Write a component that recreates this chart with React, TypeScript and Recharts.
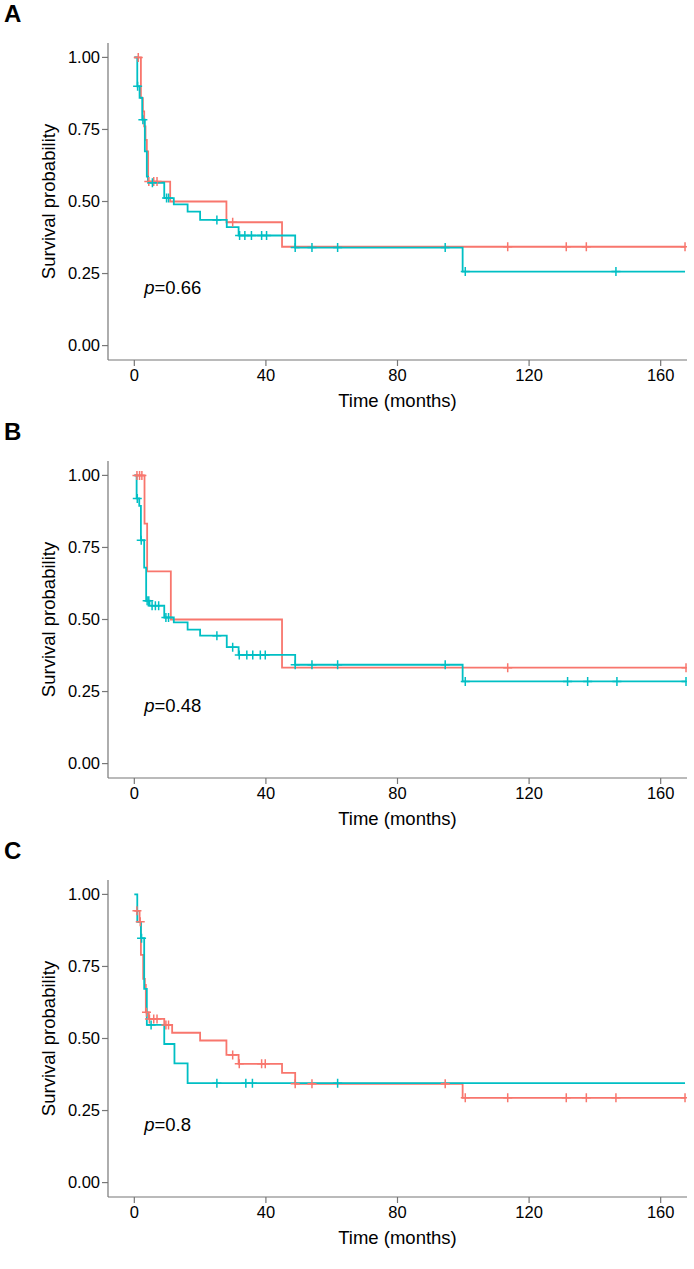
import React from "react";
import {
  ComposedChart,
  Line,
  Scatter,
  XAxis,
  YAxis,
  ReferenceDot,
} from "recharts";

const RED = "#F8766D";
const CYAN = "#00BFC4";
const FONT = "'Liberation Sans', Arial, sans-serif";

const xTicks = [0, 40, 80, 120, 160];
const yTicks = [0, 0.25, 0.5, 0.75, 1];

// Panel A
const aRedT = [0, 2.0, 2.6, 3.0, 3.4, 3.8, 4.2, 10.9, 28.0, 44.9, 167.4];
const aRedS = [1, 0.859, 0.813, 0.761, 0.714, 0.674, 0.569, 0.5, 0.428, 0.343, 0.343];
const aRedCensor = [1.2, 4.4, 5.9, 6.9, 29.9, 113.5, 131.3, 137.4, 167.4];
const aCyanT = [0, 0.9, 1.6, 2.4, 3.2, 3.8, 4.2, 9.1, 12.0, 16.2, 20.0, 28.1, 31.7, 48.9, 99.8, 167.4];
const aCyanS = [1, 0.9, 0.86, 0.784, 0.674, 0.586, 0.565, 0.512, 0.49, 0.465, 0.436, 0.411, 0.382, 0.34, 0.257, 0.257];
const aCyanCensor = [1.0, 2.6, 5.5, 9.8, 10.4, 25.1, 32.0, 33.6, 35.6, 38.7, 40.2, 48.9, 54.0, 61.8, 94.5, 100.6, 146.4];

// Panel B
const bRedT = [0, 3.1, 3.9, 11.1, 44.9, 167.7];
const bRedS = [1, 0.833, 0.667, 0.5, 0.333, 0.333];
const bRedCensor = [0.8, 1.6, 2.3, 113.5, 167.7];
const bCyanT = [0, 0.7, 1.5, 2.0, 3.0, 3.6, 4.6, 9.1, 12.0, 16.2, 20.0, 28.1, 31.7, 48.9, 99.8, 167.7];
const bCyanS = [1, 0.92, 0.894, 0.775, 0.68, 0.565, 0.548, 0.507, 0.49, 0.465, 0.444, 0.404, 0.377, 0.343, 0.285, 0.285];
const bCyanCensor = [0.9, 2.1, 3.9, 4.4, 5.4, 6.4, 7.4, 9.6, 10.4, 25.1, 29.9, 31.9, 34.2, 36.0, 38.3, 39.8, 48.9, 54.0, 61.8, 94.5, 100.6, 131.7, 137.8, 146.7, 167.7];

// Panel C
const cRedT = [0, 1.6, 2.0, 2.7, 3.2, 3.5, 4.4, 9.1, 11.5, 20.0, 28.0, 31.7, 44.9, 48.9, 99.8, 167.4];
const cRedS = [0.943, 0.905, 0.79, 0.707, 0.686, 0.591, 0.568, 0.547, 0.52, 0.493, 0.443, 0.412, 0.381, 0.343, 0.294, 0.294];
const cRedCensor = [0.8, 1.8, 3.7, 4.6, 5.9, 6.9, 9.6, 10.4, 29.9, 31.9, 38.7, 39.8, 48.9, 54.0, 94.5, 100.6, 113.5, 131.3, 137.4, 146.4, 167.4];
const cCyanT = [0, 0.9, 2.0, 3.0, 3.8, 9.1, 12.2, 16.2, 167.4];
const cCyanS = [1, 0.905, 0.848, 0.672, 0.547, 0.481, 0.414, 0.345, 0.345];
const cCyanCensor = [2.2, 5.1, 25.1, 33.9, 35.9, 61.8];

const steps = (ts: number[], ss: number[]) => ts.map((t, i) => ({ t, s: ss[i] }));

// censor marks sit on the curve at their time
const censors = (cs: number[], ts: number[], ss: number[]) =>
  cs.map((t) => {
    let k = 0;
    ts.forEach((tt, i) => {
      if (tt <= t) k = i;
    });
    return { t, s: ss[k] };
  });

const plus = (color: string) => (props: any) => {
  const { cx, cy } = props;
  return (
    <path
      d={`M${cx - 4.5},${cy}h9M${cx},${cy - 4.5}v9`}
      stroke={color}
      strokeWidth={1.5}
      fill="none"
    />
  );
};

interface PanelProps {
  letter: string;
  top: number;
  pval: string;
  redT: number[];
  redS: number[];
  redCensor: number[];
  cyanT: number[];
  cyanS: number[];
  cyanCensor: number[];
}

function Panel({ letter, top, pval, redT, redS, redCensor, cyanT, cyanS, cyanCensor }: PanelProps) {
  const tickStyle = { fill: "#000", fontSize: 16.5, fontFamily: FONT };
  return (
    <div style={{ position: "absolute", left: 0, top, width: 694, height: 419 }}>
      <div
        style={{
          position: "absolute",
          left: 4,
          top: 0,
          fontFamily: FONT,
          fontWeight: "bold",
          fontSize: 24,
        }}
      >
        {letter}
      </div>
      <ComposedChart
        width={694}
        height={419}
        margin={{ top: 43, right: 7, bottom: 7, left: 48 }}
      >
        <XAxis
          type="number"
          dataKey="t"
          domain={[-8, 168]}
          ticks={xTicks}
          allowDataOverflow
          height={52}
          stroke="#777"
          strokeWidth={1.2}
          tickSize={6}
          tickMargin={3}
          tick={tickStyle}
          label={{
            value: "Time (months)",
            position: "insideBottom",
            offset: 5,
            fill: "#000",
            fontSize: 18.5,
            fontFamily: FONT,
          }}
        />
        <YAxis
          type="number"
          domain={[-0.05, 1.05]}
          ticks={yTicks}
          allowDataOverflow
          width={60}
          stroke="#777"
          strokeWidth={1.2}
          tickSize={6}
          tickMargin={2}
          tick={tickStyle}
          tickFormatter={(v) => v.toFixed(2)}
          label={{
            value: "Survival probability",
            angle: -90,
            position: "insideLeft",
            offset: 0,
            fill: "#000",
            fontSize: 18.5,
            fontFamily: FONT,
            style: { textAnchor: "middle" },
          }}
        />
        <Line
          data={steps(redT, redS)}
          dataKey="s"
          type="stepAfter"
          stroke={RED}
          strokeWidth={1.8}
          dot={false}
          activeDot={false}
          isAnimationActive={false}
        />
        <Line
          data={steps(cyanT, cyanS)}
          dataKey="s"
          type="stepAfter"
          stroke={CYAN}
          strokeWidth={1.8}
          dot={false}
          activeDot={false}
          isAnimationActive={false}
        />
        <Scatter
          data={censors(redCensor, redT, redS)}
          dataKey="s"
          shape={plus(RED)}
          isAnimationActive={false}
        />
        <Scatter
          data={censors(cyanCensor, cyanT, cyanS)}
          dataKey="s"
          shape={plus(CYAN)}
          isAnimationActive={false}
        />
        <ReferenceDot
          x={3}
          y={0.2}
          r={0}
          ifOverflow="visible"
          shape={(p: any) => (
            <text
              x={p.cx}
              y={p.cy}
              dy="0.35em"
              fontSize={18.5}
              fontFamily={FONT}
              fill="#000"
            >
              <tspan fontStyle="italic">p</tspan>={pval}
            </text>
          )}
        />
      </ComposedChart>
    </div>
  );
}

export default function App() {
  return (
    <div
      style={{
        position: "absolute",
        left: 0,
        top: 0,
        width: 694,
        height: 1269,
        background: "#fff",
      }}
    >
      <Panel
        letter="A"
        top={0}
        pval="0.66"
        redT={aRedT}
        redS={aRedS}
        redCensor={aRedCensor}
        cyanT={aCyanT}
        cyanS={aCyanS}
        cyanCensor={aCyanCensor}
      />
      <Panel
        letter="B"
        top={418}
        pval="0.48"
        redT={bRedT}
        redS={bRedS}
        redCensor={bRedCensor}
        cyanT={bCyanT}
        cyanS={bCyanS}
        cyanCensor={bCyanCensor}
      />
      <Panel
        letter="C"
        top={837}
        pval="0.8"
        redT={cRedT}
        redS={cRedS}
        redCensor={cRedCensor}
        cyanT={cCyanT}
        cyanS={cCyanS}
        cyanCensor={cCyanCensor}
      />
    </div>
  );
}
